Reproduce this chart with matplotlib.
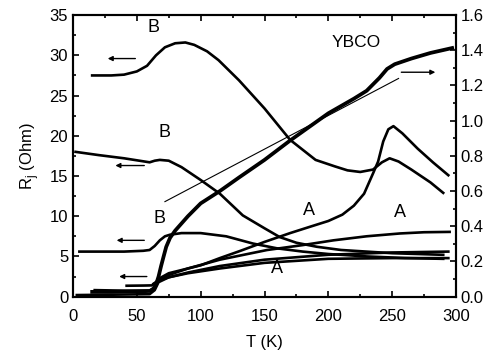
import matplotlib
matplotlib.use("Agg")
import matplotlib.pyplot as plt
from matplotlib.ticker import MultipleLocator

plt.rcParams['font.family'] = ['Liberation Sans', 'DejaVu Sans']
plt.rcParams['font.size'] = 12

# ---- left axis curves (R_j, Ohm) ----
b_top_T = [15, 30, 40, 50, 58, 65, 72, 80, 88, 95, 105, 114, 130, 150, 170, 190,
           205, 215, 225, 235, 242, 248, 255, 265, 280, 290]
b_top_R = [27.5, 27.5, 27.6, 28.0, 28.7, 30.0, 31.0, 31.5, 31.6, 31.3, 30.5, 29.4,
           26.9, 23.4, 19.5, 17.0, 16.2, 15.7, 15.5, 15.8, 16.7, 17.2, 16.8, 15.8,
           14.2, 12.9]

b_mid_T = [2, 20, 40, 60, 64, 68, 75, 85, 100, 115, 133, 150, 162, 175, 191, 210,
           230, 250, 270, 290]
b_mid_R = [18.0, 17.6, 17.2, 16.7, 16.9, 17.0, 16.9, 16.1, 14.5, 12.8, 10.1, 8.5,
           7.4, 6.7, 6.2, 5.8, 5.6, 5.4, 5.3, 5.2]

b_low_T = [5, 20, 40, 55, 60, 64, 68, 72, 76, 85, 100, 120, 141, 160, 180, 200,
           230, 260, 290]
b_low_R = [5.6, 5.6, 5.6, 5.7, 5.8, 6.3, 7.0, 7.5, 7.7, 7.9, 7.9, 7.5, 6.6, 6.0,
           5.6, 5.3, 5.0, 4.8, 4.7]

# ---- right axis curves ----
big_T = [15, 30, 50, 60, 63, 65, 67, 69, 71, 73, 76, 80, 90, 100, 115, 130, 150,
         170, 200, 220, 230, 240, 246, 252, 265, 280, 297]
big_V = [0.027, 0.027, 0.030, 0.032, 0.041, 0.069, 0.114, 0.174, 0.229, 0.283,
         0.334, 0.375, 0.457, 0.530, 0.600, 0.677, 0.777, 0.887, 1.042, 1.125,
         1.170, 1.243, 1.294, 1.321, 1.353, 1.385, 1.413]

fit_T = [72, 255]
fit_V = [0.54, 1.24]

a_peak_T = [42, 55, 62, 65, 68, 75, 90, 100, 115, 131, 150, 170, 186, 200, 211,
            220, 228, 235, 239, 243, 247, 251, 258, 270, 282, 294]
a_peak_V = [0.062, 0.063, 0.064, 0.082, 0.105, 0.133, 0.160, 0.178, 0.219, 0.260,
            0.311, 0.361, 0.398, 0.430, 0.466, 0.517, 0.585, 0.700, 0.768, 0.882,
            0.951, 0.969, 0.928, 0.841, 0.763, 0.690]

a_mid_T = [17, 40, 60, 64, 67, 75, 90, 115, 152, 180, 204, 230, 256, 275, 295]
a_mid_V = [0.037, 0.034, 0.034, 0.055, 0.091, 0.123, 0.160, 0.210, 0.265, 0.293,
           0.320, 0.343, 0.359, 0.366, 0.368]

a_low1_T = [3, 30, 60, 64, 67, 75, 90, 115, 150, 200, 250, 294]
a_low1_V = [0.009, 0.011, 0.014, 0.037, 0.082, 0.110, 0.137, 0.174, 0.210, 0.238,
            0.251, 0.256]

a_low2_T = [63, 67, 75, 90, 115, 150, 200, 250, 294]
a_low2_V = [0.073, 0.091, 0.110, 0.133, 0.160, 0.192, 0.215, 0.219, 0.219]

fig = plt.figure(figsize=(4.91, 3.6), dpi=100)
ax = fig.add_axes([0.1487, 0.176, 0.78, 0.782])
ax2 = ax.twinx()

ax.plot(b_top_T, b_top_R, color='black', lw=1.9)
ax.plot(b_mid_T, b_mid_R, color='black', lw=1.9)
ax.plot(b_low_T, b_low_R, color='black', lw=1.9)

ax2.plot(big_T, big_V, color='black', lw=2.7)
ax2.plot(fit_T, fit_V, color='black', lw=0.8)
ax2.plot(a_peak_T, a_peak_V, color='black', lw=1.9)
ax2.plot(a_mid_T, a_mid_V, color='black', lw=1.9)
ax2.plot(a_low1_T, a_low1_V, color='black', lw=1.9)
ax2.plot(a_low2_T, a_low2_V, color='black', lw=1.9)

# arrows showing which axis each curve belongs to
arr = dict(arrowstyle='-|>', color='black', lw=1.0, mutation_scale=7)
for x0, x1, y in [(51, 25, 29.6), (58, 31, 16.3), (58, 32, 7.0), (60, 34, 2.5)]:
    ax.annotate('', xy=(x1, y), xytext=(x0, y), arrowprops=arr)
ax.annotate('', xy=(286, 27.9), xytext=(255, 27.9), arrowprops=arr)

# curve labels
for x, y in [(63, 33.5), (72, 20.4), (68, 9.7)]:
    ax.text(x, y, 'B', fontsize=13, ha='center', va='center')
for x, y in [(185, 10.7), (256, 10.4), (160, 3.5)]:
    ax.text(x, y, 'A', fontsize=13, ha='center', va='center')
ax.text(222, 31.6, 'YBCO', fontsize=12.5, ha='center', va='center')

ax.set_xlim(0, 300)
ax.set_ylim(0, 35)
ax2.set_ylim(0, 1.6)
ax.xaxis.set_major_locator(MultipleLocator(50))
ax.xaxis.set_minor_locator(MultipleLocator(25))
ax.yaxis.set_major_locator(MultipleLocator(5))
ax.yaxis.set_minor_locator(MultipleLocator(2.5))
ax2.yaxis.set_major_locator(MultipleLocator(0.2))
ax2.yaxis.set_minor_locator(MultipleLocator(0.1))
ax2.set_yticklabels([f'{v:.1f}' for v in ax2.get_yticks()])

ax.tick_params(which='both', direction='in', top=True, width=1.2)
ax.tick_params(which='major', length=4)
ax.tick_params(which='minor', length=2)
ax.tick_params(axis='x', pad=9)
ax2.tick_params(which='both', direction='in', width=1.2)
ax2.tick_params(which='major', length=4)
ax2.tick_params(which='minor', length=2)
for sp in ax.spines.values():
    sp.set_linewidth(1.5)
for sp in ax2.spines.values():
    sp.set_linewidth(1.5)

ax.set_xlabel('T (K)', labelpad=8)
ax.set_ylabel('R$_\\mathregular{j}$ (Ohm)', labelpad=6)

fig.savefig('out.png', dpi=100)
